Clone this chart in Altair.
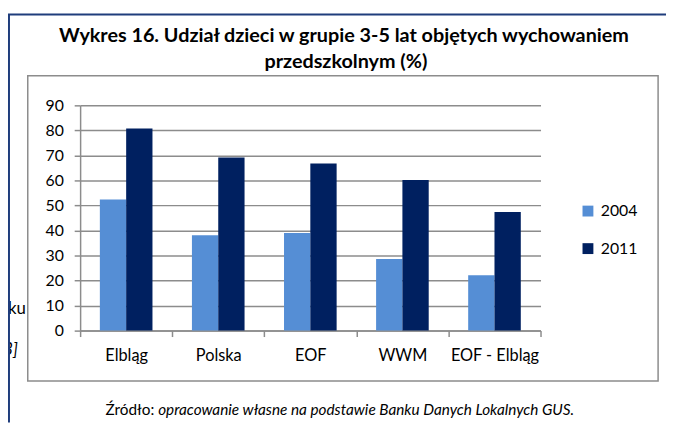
import altair as alt
import pandas as pd

categories = ["Elbląg", "Polska", "EOF", "WWM", "EOF - Elbląg"]
years = ["2004", "2011"]
values_2004 = [52.4, 38.1, 39.0, 28.6, 22.1]
values_2011 = [80.8, 69.2, 66.8, 60.2, 47.4]
y_ticks = [0, 10, 20, 30, 40, 50, 60, 70, 80, 90]
colors = ["#558ed5", "#002060"]

title_lines = ["Wykres 16. Udział dzieci w grupie 3-5 lat objętych wychowaniem",
               "przedszkolnym (%)"]
source_label = "Źródło:"
source_text = "opracowanie własne na podstawie Banku Danych Lokalnych GUS."

rows = []
for c, a, b in zip(categories, values_2004, values_2011):
    rows.append({"region": c, "year": years[0], "value": a})
    rows.append({"region": c, "year": years[1], "value": b})
df = pd.DataFrame(rows)
one = pd.DataFrame({"k": [0]})

FONT = "Lato"
W, H = 466, 228
GRID = "#8c8c8c"

bars = alt.Chart(df).mark_bar().encode(
    x=alt.X("region:N", sort=categories,
            scale=alt.Scale(paddingInner=0, paddingOuter=0),
            axis=alt.Axis(title=None, labelAngle=0, tickBand="extent", tickSize=6,
                          labelPadding=11, domainColor=GRID, domainWidth=1.5,
                          tickColor=GRID, tickWidth=1.5, labelFontSize=16.5,
                          labelFont=FONT, labelColor="#000", grid=False)),
    xOffset=alt.XOffset("year:N", sort=years,
                        scale=alt.Scale(paddingOuter=0.75, paddingInner=0)),
    y=alt.Y("value:Q", scale=alt.Scale(domain=[0, 90], nice=False),
            axis=alt.Axis(title=None, values=y_ticks, grid=True, gridColor=GRID,
                          gridWidth=1.5, tickSize=6, labelPadding=11,
                          domainColor=GRID, domainWidth=1.5, tickColor=GRID,
                          tickWidth=1.5, labelFontSize=16, labelFont=FONT,
                          labelColor="#000")),
    color=alt.Color("year:N", sort=years,
                    scale=alt.Scale(domain=years, range=colors),
                    legend=alt.Legend(title=None, orient="none", legendX=506,
                                      legendY=99, symbolType="square",
                                      symbolSize=121, symbolStrokeWidth=0,
                                      labelFontSize=16, labelFont=FONT,
                                      labelColor="#000", labelOffset=5,
                                      rowPadding=22, symbolOpacity=1)),
)

LINE = "#1f3d7c"
top_line = alt.Chart(one).mark_rule(color=LINE, strokeWidth=2).encode(
    x=alt.value(-74), x2=alt.value(593), y=alt.value(-92))
left_line = alt.Chart(one).mark_rule(color=LINE, strokeWidth=2).encode(
    x=alt.value(-72), y=alt.value(-92), y2=alt.value(321))
box = alt.Chart(one).mark_rect(fillOpacity=0, stroke="#8c8c8c", strokeWidth=1.5).encode(
    x=alt.value(-53), x2=alt.value(585), y=alt.value(-30), y2=alt.value(279))

leak1 = alt.Chart(one).mark_text(text="y ku", font=FONT, fontSize=17, align="right",
                                 baseline="alphabetic", color="#000").encode(
    x=alt.value(-55), y=alt.value(211))
leak2 = alt.Chart(one).mark_text(text="[13]", font=FONT, fontSize=17, fontStyle="italic",
                                 align="right", baseline="alphabetic", color="#000").encode(
    x=alt.value(-63), y=alt.value(253))

t1 = alt.Chart(one).mark_text(text=title_lines[0], font=FONT, fontSize=20, fontWeight="bold",
                              align="center", baseline="alphabetic", color="#000").encode(
    x=alt.value(267), y=alt.value(-64))
t2 = alt.Chart(one).mark_text(text=title_lines[1], font=FONT, fontSize=20, fontWeight="bold",
                              align="center", baseline="alphabetic", color="#000").encode(
    x=alt.value(269), y=alt.value(-38))

s1 = alt.Chart(one).mark_text(text=source_label, font=FONT, fontSize=15.5, align="right",
                              baseline="alphabetic", color="#000").encode(
    x=alt.value(75), y=alt.value(313))
s2 = alt.Chart(one).mark_text(text=source_text, font=FONT, fontSize=15.5, fontStyle="italic",
                              align="left", baseline="alphabetic", color="#000").encode(
    x=alt.value(79), y=alt.value(313))

chart = alt.layer(leak1, leak2, top_line, left_line, box, bars, t1, t2, s1, s2).properties(
    width=W, height=H, autosize="none",
    padding={"left": 73, "top": 96, "right": 127, "bottom": 93},
    background="white",
).configure_view(stroke=None)

chart.save("out.html", embed_options={"renderer": "svg", "actions": False})
